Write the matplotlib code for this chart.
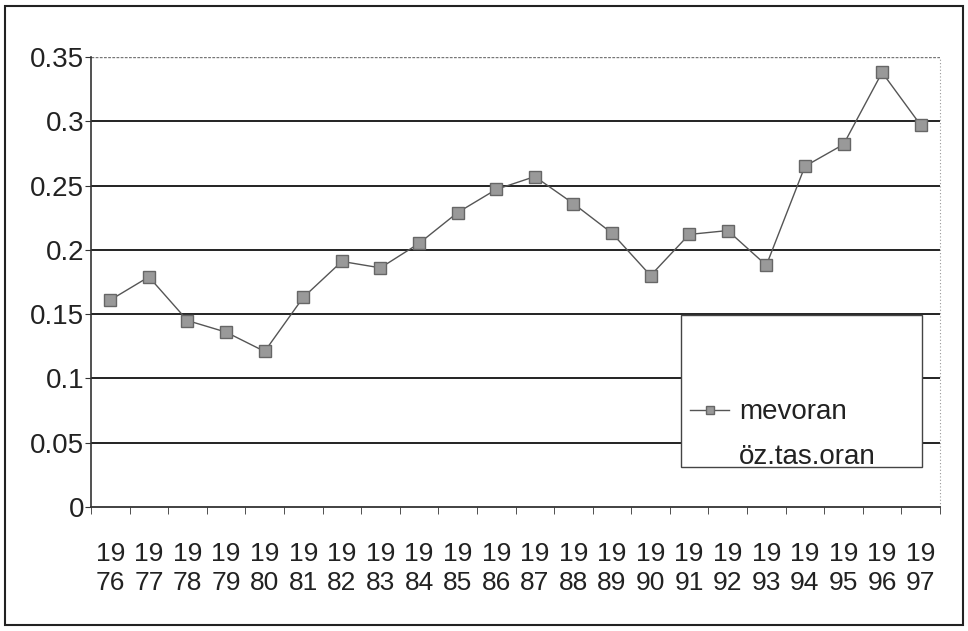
import matplotlib
matplotlib.use("Agg")
import matplotlib.pyplot as plt
from matplotlib.patches import Rectangle
import numpy as np

years = [str(y) for y in range(1976, 1998)]
mevoran = [0.161, 0.179, 0.145, 0.136, 0.121, 0.163, 0.191, 0.186, 0.205, 0.229,
           0.247, 0.257, 0.236, 0.213, 0.180, 0.212, 0.215, 0.188, 0.265, 0.282,
           0.338, 0.297]
oz_tas_oran = []  # series present in legend only
yticks = [0, 0.05, 0.1, 0.15, 0.2, 0.25, 0.3, 0.35]
ytick_labels = ["0", "0.05", "0.1", "0.15", "0.2", "0.25", "0.3", "0.35"]
xtick_labels = [y[:2] + "\n" + y[2:] for y in years]

plt.rcParams['font.family'] = ['Liberation Sans', 'DejaVu Sans']

fig = plt.figure(figsize=(9.68, 6.31), dpi=100)
fig.patches.append(Rectangle((5/968, 6/631), 958/968, 619/631, transform=fig.transFigure,
                             fill=False, edgecolor='#222222', linewidth=1.5))

ax = fig.add_axes([91/968, 124/631, 849/968, 450/631])
x = np.arange(len(years))
ax.plot(x, mevoran, color='#555555', linewidth=1.0, marker='s', markersize=8,
        markerfacecolor='#999999', markeredgecolor='#666666', markeredgewidth=1.0,
        label='mevoran', zorder=3)
ax.plot(x[:len(oz_tas_oran)], oz_tas_oran, color='white', linewidth=0, label='öz.tas.oran')

ax.set_xlim(-0.5, len(years) - 0.5)
ax.set_ylim(0, 0.35)
ax.set_yticks(yticks)
ax.set_yticklabels(ytick_labels, fontsize=20, color='#222222')
ax.set_xticks(x)
ax.set_xticklabels(xtick_labels, fontsize=19, color='#222222', linespacing=1.3)
ax.set_xticks(np.arange(-0.5, len(years), 1), minor=True)
ax.tick_params(axis='x', which='major', length=0, pad=25)
ax.tick_params(axis='x', which='minor', length=5, direction='out', color='#333333')
ax.tick_params(axis='y', length=4, direction='out', color='#333333', pad=1)

for v in yticks[1:-1]:
    ax.axhline(v, color='#111111', linewidth=1.3, zorder=1)
ax.axhline(0.35, color='#777777', linewidth=1.0, linestyle=(0, (2, 1)), zorder=1)

for s in ['top', 'right']:
    ax.spines[s].set_visible(False)
ax.spines['left'].set_color('#333333')
ax.spines['left'].set_linewidth(1.2)
ax.spines['bottom'].set_color('#333333')
ax.spines['bottom'].set_linewidth(1.3)
ax.plot([1, 1], [0, 1], transform=ax.transAxes, color='#999999', linewidth=0.8,
        linestyle=(0, (1, 2)), clip_on=False)

# legend box
bx0, by0 = (681 - 91) / 849, (507 - 467) / 450
bw, bh = (922 - 681) / 849, (467 - 315) / 450
ax.add_patch(Rectangle((bx0, by0), bw, bh, transform=ax.transAxes, facecolor='white',
                       edgecolor='#444444', linewidth=1.0, zorder=4))
leg = ax.legend(loc='lower left', bbox_to_anchor=(bx0 - 0.012, by0 - 0.05), frameon=False,
                fontsize=20, handlelength=1.4, handletextpad=0.35, labelspacing=0.67,
                borderpad=0.2, markerscale=0.8)
leg.set_zorder(5)
for t in leg.get_texts():
    t.set_color('#222222')

fig.savefig('out.png', dpi=100)
